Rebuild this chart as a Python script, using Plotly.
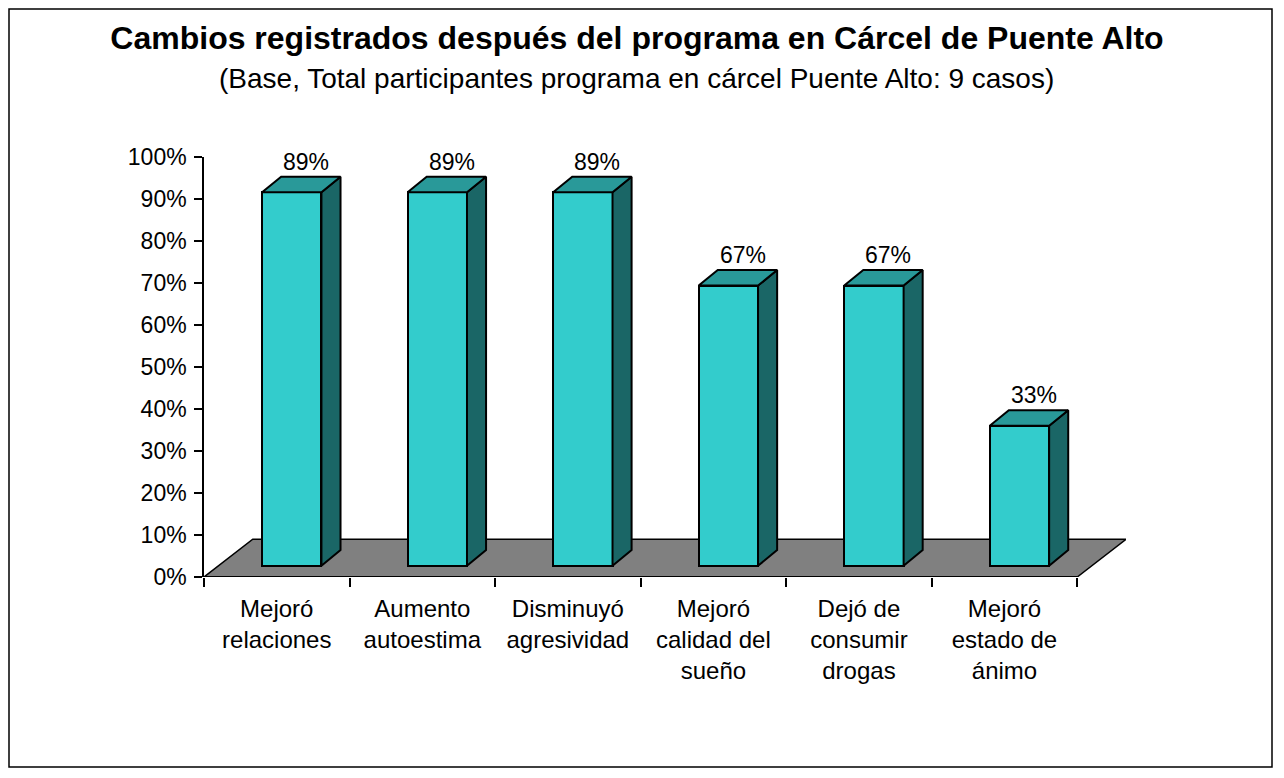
import plotly.graph_objects as go

# data
categories = ["Mejoró<br>relaciones", "Aumento<br>autoestima", "Disminuyó<br>agresividad",
              "Mejoró<br>calidad del<br>sueño", "Dejó de<br>consumir<br>drogas", "Mejoró<br>estado de<br>ánimo"]
values = [88.9, 88.9, 88.9, 66.7, 66.7, 33.3]
y_ticks = [0, 10, 20, 30, 40, 50, 60, 70, 80, 90, 100]
y_labels = [f"{v}%" for v in y_ticks]

FONT = "Liberation Sans, Arial, sans-serif"
FRONT = "#33CCCC"
TOP = "#299999"
SIDE = "#1A6666"
FLOOR = "#808080"

# fake 3d geometry (in data units)
floor_dx, floor_dy = 0.335, 8.98      # depth of the floor
off_dx, off_dy = 0.103, 2.69          # bars sit a bit behind the front plane
bar_dx, bar_dy = 0.131, 3.71          # bar depth
bar_w = 0.408

n = len(categories)
xs = [i + off_dx for i in range(n)]

# page body has an 8px margin, so the figure is laid out 8px smaller
OFF = 8
W, H = 1284 - 2 * OFF, 778 - 2 * OFF
L, R, T, B = 204 - OFF, 1126 - OFF, 157 - OFF, 577 - OFF


def px(xp, yp):
    # reference pixel -> paper coords
    return (xp - OFF - L) / (R - L), (B - (yp - OFF)) / (B - T)


fig = go.Figure()

# front faces
fig.add_trace(go.Bar(
    x=xs, y=values, base=off_dy, width=bar_w,
    marker=dict(color=FRONT, line=dict(color="black", width=2)),
    hoverinfo="skip", showlegend=False,
))

# side and top faces
for x, v in zip(xs, values):
    l, r = x - bar_w / 2, x + bar_w / 2
    b, t = off_dy, off_dy + v
    fig.add_trace(go.Scatter(
        x=[r, r + bar_dx, r + bar_dx, r, r], y=[b, b + bar_dy, t + bar_dy, t, b],
        fill="toself", fillcolor=SIDE, mode="lines", line=dict(color="black", width=2),
        hoverinfo="skip", showlegend=False))
    fig.add_trace(go.Scatter(
        x=[l, r, r + bar_dx, l + bar_dx, l], y=[t, t, t + bar_dy, t + bar_dy, t],
        fill="toself", fillcolor=TOP, mode="lines", line=dict(color="black", width=2),
        hoverinfo="skip", showlegend=False))

# value labels
for x, v in zip(xs, values):
    fig.add_annotation(x=x + 0.1, y=v + off_dy + bar_dy, text=f"{round(v)}%",
                       showarrow=False, yanchor="bottom", yshift=0,
                       font=dict(family=FONT, size=23, color="black"))

# gray floor
x_lo, x_hi = -0.5, n - 0.5
fig.add_shape(type="path", xref="x", yref="y", layer="below",
              path=f"M {x_lo},0 L {x_hi},0 L {x_hi + floor_dx},{floor_dy} "
                   f"L {x_lo + floor_dx},{floor_dy} Z",
              fillcolor=FLOOR, line=dict(color="black", width=1.5))
# category axis line (front edge only)
fig.add_shape(type="line", xref="x", yref="y", x0=x_lo, x1=x_hi, y0=0, y1=0,
              line=dict(color="black", width=2))

# outer border of the chart
bx0, by0 = px(9, 767)
bx1, by1 = px(1272, 9)
fig.add_shape(type="rect", xref="paper", yref="paper", x0=bx0, y0=by0, x1=bx1, y1=by1,
              line=dict(color="black", width=1.5))

sx, sy = px(636, 78)
fig.add_annotation(xref="paper", yref="paper", x=sx, y=sy, showarrow=False,
                   xanchor="center", yanchor="middle",
                   text="(Base, Total participantes programa en cárcel Puente Alto: 9 casos)",
                   font=dict(family=FONT, size=28, color="black"))

fig.update_layout(
    width=W, height=H,
    margin=dict(l=L, r=W - R, t=T, b=H - B, pad=0),
    paper_bgcolor="white", plot_bgcolor="white",
    title=dict(text="<b>Cambios registrados después del programa en Cárcel de Puente Alto</b>",
               xref="container", yref="container",
               x=(637 - OFF) / W, y=1 - (38 - OFF) / H,
               xanchor="center", yanchor="middle",
               font=dict(family=FONT, size=32, color="black")),
    font=dict(family=FONT, size=23, color="black"),
    xaxis=dict(range=[x_lo, x_hi + floor_dx], tickvals=list(range(n)), ticktext=categories,
               ticks="", showline=False, showgrid=False, zeroline=False,
               ticklabelstandoff=15,
               minor=dict(tick0=-0.5, dtick=1, ticks="outside", ticklen=9,
                          tickcolor="black", tickwidth=1.5, showgrid=False),
               tickfont=dict(family=FONT, size=24)),
    yaxis=dict(range=[0, 100], tickvals=y_ticks, ticktext=y_labels, ticks="outside",
               ticklen=8, tickwidth=1.5, tickcolor="black", showline=True,
               linecolor="black", linewidth=1.5, showgrid=False, zeroline=False,
               ticklabelstandoff=3,
               tickfont=dict(family=FONT, size=23)),
    bargap=0,
)

fig.write_html("out.html")
